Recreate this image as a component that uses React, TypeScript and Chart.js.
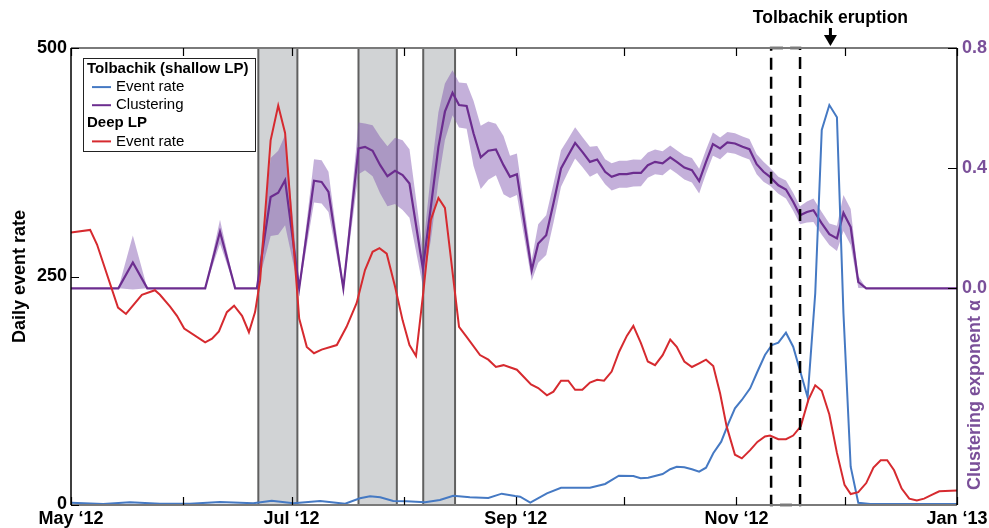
import React, { useEffect, useRef } from "react";
import { Chart, registerables } from "chart.js";
Chart.register(...registerables);

const FONT = '"Liberation Sans", Arial, Helvetica, sans-serif';

// x values are days since 1 May 2012
const monthTickDays = [0, 31, 61, 92, 123, 153, 184, 214, 245];
const xLabelDays = [0, 61, 123, 184, 245];
const xLabels = ["May \u201812", "Jul \u201812", "Sep \u201812", "Nov \u201812", "Jan \u201813"];
const leftTicks = [0, 250, 500];
const rightTicks = [0, 0.4, 0.8];

const shadeStart = [51.8, 79.5, 97.4];
const shadeEnd = [62.6, 90.1, 106.2];
const boxStart = 193.6;
const boxEnd = 201.6;
const eruptionDay = 210;

const deepDays = [0,5.3,7.2,13,15.2,19.6,23.2,24.6,27.4,29.3,31.3,37.1,39,40.9,43.1,45.1,47.3,49.2,50.9,52.3,55.2,57.3,59.2,63.1,65.2,67.2,69.3,73.5,76.2,79,81.3,83.4,85.3,87.3,89.6,91.7,93.6,95.4,97.4,99.5,101.6,103.4,107.3,109.4,113.1,115.4,117.5,119.6,123.3,127.2,129.2,131.6,133.4,135.5,137.5,139.4,141.4,143.5,145.5,147.4,149.5,151.6,153.7,155.5,157.6,159.5,161.5,163.6,165.7,167.5,169.6,171.7,173.7,175.6,177.6,179.5,181.3,183.6,185.5,187.8,189.8,191.9,193.3,195.6,197.7,199.7,201.8,203.9,205.8,207.6,209.7,211.8,213.9,215.6,217.7,219.9,221.9,223.9,225.7,227.6,229.7,231.8,233.9,235.9,238,240.1,245];
const deepRate = [298,301,285,216,209,230,235,230,217,207,193,178,182,190,211,218,207,189,211,246,399,437,407,204,173,166,170,175,195,221,257,277,281,275,239,202,175,163,232,312,336,325,195,184,164,159,151,153,148,132,128,120,124,136,136,126,126,134,137,136,146,168,185,196,177,157,153,164,181,173,157,151,155,159,152,122,86,55,51,60,69,75,76,72,72,76,86,115,131,125,99,57,22,12,14,24,41,49,49,38,18,7,5,7,11,15,16];

const shallowDays = [0,8.9,16.3,24.6,32.9,41.2,50.4,55.5,61.5,68.9,75.8,79.9,82.7,85.5,89.1,92.8,97.9,102,105.7,110.3,115.4,119.1,122.8,124.2,127,131.6,135.5,139.4,143.5,147.7,151.5,155.5,157.5,159.6,163.6,165.7,167.5,169.6,171.7,173.7,175.6,177.6,179.8,181.8,183.6,185.5,187.8,189.8,191.9,193.8,195.6,197.7,199.7,201.8,203.7,205.8,207.6,209.7,211.8,213.6,215.6,217.7,221,245];
const shallowRate = [2.5,1.1,2.9,1.4,1.4,3.3,1.8,4.7,1.8,4.4,1.4,7.3,9.5,8.4,4.4,4,2.9,5.5,10.2,8.4,7.7,12.4,9.8,9.1,2.5,12.8,18.9,18.9,18.9,23,32.1,31.7,29.2,29.9,33.9,39.1,41.9,41.2,39.1,36.4,40.8,56.6,69.3,89.4,105.8,114.9,127.7,145.8,164.1,175,177.6,188.5,173.2,144.1,117.8,231.6,410.3,437.6,424.2,209.7,41.9,2.5,1.1,1.1];

const clusterDays = [0,13.1,17.1,21.1,37.1,41.2,45.4,51.4,55.2,57.3,59.2,63.1,67.2,69.3,71.2,75.3,79.5,81.3,83.4,85.5,87.5,89.6,91.7,93.6,97.3,99.5,101.6,103.4,105.5,107.3,109.4,111.3,113.3,115.4,117.5,119.6,121.4,123.3,127.4,129.2,131.4,133.4,135.5,137.5,139.4,141.4,143.5,145.5,147.7,149.5,151.6,153.7,155.5,157.6,159.5,161.5,163.6,165.7,167.5,169.6,171.7,173.7,175.6,177.5,179.5,181.5,183.6,185.7,187.6,189.6,191.5,193.3,195.6,197.7,199.7,201.6,203.5,205.3,207.6,209.7,211.8,213.6,215.6,217.7,219.9,245];
const clusterAlpha = [0,0,0.086,0,0,0.188,0,0,0.304,0.318,0.36,0,0.358,0.354,0.321,0,0.466,0.471,0.458,0.41,0.373,0.391,0.377,0.349,0.066,0.27,0.471,0.588,0.651,0.61,0.607,0.516,0.436,0.458,0.462,0.41,0.371,0.38,0.06,0.149,0.177,0.282,0.399,0.443,0.484,0.454,0.421,0.429,0.388,0.371,0.38,0.38,0.384,0.384,0.41,0.421,0.416,0.436,0.421,0.402,0.393,0.357,0.421,0.48,0.466,0.486,0.482,0.471,0.463,0.413,0.388,0.371,0.343,0.329,0.288,0.243,0.254,0.26,0.216,0.18,0.166,0.251,0.204,0.021,0,0];
const clusterErr = [0,0,0.09,0,0,0.04,0,0,0.13,0.14,0.15,0.01,0.072,0.072,0.067,0.01,0.086,0.078,0.085,0.094,0.1,0.11,0.116,0.114,0.06,0.11,0.115,0.094,0.075,0.075,0.076,0.108,0.105,0.097,0.086,0.097,0.07,0.069,0.035,0.064,0.066,0.065,0.061,0.055,0.052,0.05,0.05,0.045,0.042,0.045,0.045,0.045,0.045,0.044,0.042,0.041,0.04,0.039,0.039,0.04,0.041,0.041,0.04,0.039,0.036,0.034,0.034,0.034,0.034,0.033,0.033,0.03,0.028,0.03,0.03,0.03,0.035,0.039,0.038,0.036,0.042,0.06,0.06,0.02,0,0];

const RED = "#d62a2f";
const BLUE = "#4579c3";
const PURPLE = "#6c2d8f";
const PURPLE_TEXT = "#7a4f99";
const BAND = "rgba(125, 80, 172, 0.45)";

const pts = (xs: number[], ys: number[]) => xs.map((x, i) => ({ x, y: ys[i] }));

const decor = {
  id: "decor",
  beforeDatasetsDraw(chart: any) {
    const { ctx, chartArea: a, scales } = chart;
    const xs = scales.x;
    ctx.save();
    shadeStart.forEach((s, i) => {
      const x0 = xs.getPixelForValue(s);
      const x1 = xs.getPixelForValue(shadeEnd[i]);
      ctx.fillStyle = "#d1d3d5";
      ctx.fillRect(x0, a.top, x1 - x0, a.bottom - a.top);
      ctx.strokeStyle = "#606060";
      ctx.lineWidth = 2;
      ctx.strokeRect(x0, a.top, x1 - x0, a.bottom - a.top);
    });
    ctx.restore();
  },
  afterDatasetsDraw(chart: any) {
    const { ctx, chartArea: a, scales } = chart;
    const xs = scales.x, yl = scales.y, yr = scales.y2;
    ctx.save();
    // dashed box
    const bx0 = xs.getPixelForValue(boxStart), bx1 = xs.getPixelForValue(boxEnd);
    ctx.strokeStyle = "#000";
    ctx.lineWidth = 2.5;
    ctx.setLineDash([12, 7]);
    ctx.strokeRect(bx0, a.top, bx1 - bx0, a.bottom - a.top);
    ctx.setLineDash([]);

    // frame
    ctx.strokeStyle = "#7a7a7a";
    ctx.lineWidth = 2;
    ctx.beginPath();
    ctx.moveTo(a.left, a.top); ctx.lineTo(a.right, a.top);
    ctx.moveTo(a.left, a.bottom); ctx.lineTo(a.right, a.bottom);
    ctx.stroke();
    ctx.strokeStyle = "#000";
    ctx.lineWidth = 1.5;
    ctx.beginPath();
    ctx.moveTo(a.left, a.top); ctx.lineTo(a.left, a.bottom);
    ctx.moveTo(a.right, a.top); ctx.lineTo(a.right, a.bottom);
    ctx.stroke();

    // ticks (inward)
    ctx.strokeStyle = "#000";
    ctx.lineWidth = 1.2;
    ctx.beginPath();
    monthTickDays.forEach((d) => {
      const px = Math.round(xs.getPixelForValue(d)) + 0.5;
      ctx.moveTo(px, a.bottom); ctx.lineTo(px, a.bottom - 8);
      ctx.moveTo(px, a.top); ctx.lineTo(px, a.top + 8);
    });
    leftTicks.forEach((v) => {
      const py = Math.round(yl.getPixelForValue(v)) + 0.5;
      ctx.moveTo(a.left, py); ctx.lineTo(a.left + 8, py);
    });
    rightTicks.forEach((v) => {
      const py = Math.round(yr.getPixelForValue(v)) + 0.5;
      ctx.moveTo(a.right, py); ctx.lineTo(a.right - 9, py);
    });
    ctx.stroke();

    // tick labels
    ctx.fillStyle = "#000";
    ctx.font = `bold 18px ${FONT}`;
    ctx.textBaseline = "middle";
    ctx.textAlign = "right";
    leftTicks.forEach((v) => {
      ctx.fillText(String(v), a.left - 4, yl.getPixelForValue(v) + (v === 0 ? -1 : 0));
    });
    ctx.textAlign = "center";
    xLabelDays.forEach((d, i) => {
      ctx.fillText(xLabels[i], xs.getPixelForValue(d), a.bottom + 14);
    });
    ctx.fillStyle = PURPLE_TEXT;
    ctx.textAlign = "left";
    rightTicks.forEach((v) => {
      ctx.fillText(v.toFixed(1), a.right + 5, yr.getPixelForValue(v));
    });

    // axis titles
    ctx.save();
    ctx.translate(20, (a.top + a.bottom) / 2);
    ctx.rotate(-Math.PI / 2);
    ctx.fillStyle = "#000";
    ctx.textAlign = "center";
    ctx.fillText("Daily event rate", 0, 0);
    ctx.restore();
    ctx.save();
    ctx.translate(975, 395);
    ctx.rotate(-Math.PI / 2);
    ctx.fillStyle = PURPLE_TEXT;
    ctx.textAlign = "center";
    ctx.fillText("Clustering exponent \u03b1", 0, 0);
    ctx.restore();

    // eruption annotation
    const ex = xs.getPixelForValue(eruptionDay);
    ctx.fillStyle = "#000";
    ctx.textAlign = "center";
    ctx.font = `bold 17.5px ${FONT}`;
    ctx.fillText("Tolbachik eruption", ex, 18);
    ctx.strokeStyle = "#000";
    ctx.lineWidth = 3;
    ctx.beginPath();
    ctx.moveTo(ex, 28); ctx.lineTo(ex, 37);
    ctx.stroke();
    ctx.beginPath();
    ctx.moveTo(ex - 6.5, 35); ctx.lineTo(ex + 6.5, 35); ctx.lineTo(ex, 46);
    ctx.closePath();
    ctx.fill();

    // legend
    const lx = a.left + 12, ly = a.top + 10, lw = 172, lh = 93;
    ctx.fillStyle = "#fff";
    ctx.fillRect(lx, ly, lw, lh);
    ctx.strokeStyle = "#222";
    ctx.lineWidth = 1;
    ctx.strokeRect(lx + 0.5, ly + 0.5, lw, lh);
    const rows = [
      { text: "Tolbachik (shallow LP)", bold: true, color: null },
      { text: "Event rate", bold: false, color: BLUE },
      { text: "Clustering", bold: false, color: PURPLE },
      { text: "Deep LP", bold: true, color: null },
      { text: "Event rate", bold: false, color: RED },
    ];
    ctx.textAlign = "left";
    rows.forEach((r, i) => {
      const cy = ly + 11 + i * 18.1;
      ctx.fillStyle = "#000";
      if (r.bold) {
        ctx.font = `bold 15px ${FONT}`;
        ctx.fillText(r.text, lx + 4, cy);
      } else {
        ctx.font = `15px ${FONT}`;
        ctx.strokeStyle = r.color as string;
        ctx.lineWidth = 2;
        ctx.beginPath();
        ctx.moveTo(lx + 9, cy); ctx.lineTo(lx + 28, cy);
        ctx.stroke();
        ctx.fillText(r.text, lx + 33, cy);
      }
    });
    ctx.restore();
  },
};

export default function App() {
  const ref = useRef<HTMLCanvasElement>(null);
  useEffect(() => {
    const chart = new Chart(ref.current as HTMLCanvasElement, {
      type: "line",
      data: {
        datasets: [
          {
            label: "Deep LP event rate",
            data: pts(deepDays, deepRate),
            yAxisID: "y",
            borderColor: RED,
            borderWidth: 2,
            pointRadius: 0,
            fill: false,
            tension: 0,
          },
          {
            label: "Tolbachik event rate",
            data: pts(shallowDays, shallowRate),
            yAxisID: "y",
            borderColor: BLUE,
            borderWidth: 2,
            pointRadius: 0,
            fill: false,
            tension: 0,
          },
          {
            label: "Clustering",
            data: pts(clusterDays, clusterAlpha),
            yAxisID: "y2",
            borderColor: PURPLE,
            borderWidth: 2.2,
            pointRadius: 0,
            fill: false,
            tension: 0,
          },
          {
            label: "Clustering upper",
            data: pts(clusterDays, clusterAlpha.map((v, i) => v + clusterErr[i])),
            yAxisID: "y2",
            borderWidth: 0,
            borderColor: "rgba(0,0,0,0)",
            backgroundColor: BAND,
            pointRadius: 0,
            fill: "+1",
            tension: 0,
          },
          {
            label: "Clustering lower",
            data: pts(clusterDays, clusterAlpha.map((v, i) => v - clusterErr[i])),
            yAxisID: "y2",
            borderWidth: 0,
            borderColor: "rgba(0,0,0,0)",
            pointRadius: 0,
            fill: false,
            tension: 0,
          },
        ],
      },
      options: {
        responsive: false,
        animation: false,
        layout: { padding: { left: 71, right: 32, top: 48, bottom: 23 } },
        plugins: { legend: { display: false }, tooltip: { enabled: false }, title: { display: false } },
        scales: {
          x: { type: "linear", min: 0, max: 245, display: false },
          y: { type: "linear", min: 0, max: 500, display: false },
          y2: { type: "linear", min: -0.7214, max: 0.8, display: false },
        },
      },
      plugins: [decor],
    } as any);
    return () => chart.destroy();
  }, []);
  return (
    <div style={{ position: "absolute", left: 0, top: 0, width: 989, height: 528, background: "#fff" }}>
      <canvas ref={ref} width={989} height={528} style={{ display: "block" }} />
    </div>
  );
}
